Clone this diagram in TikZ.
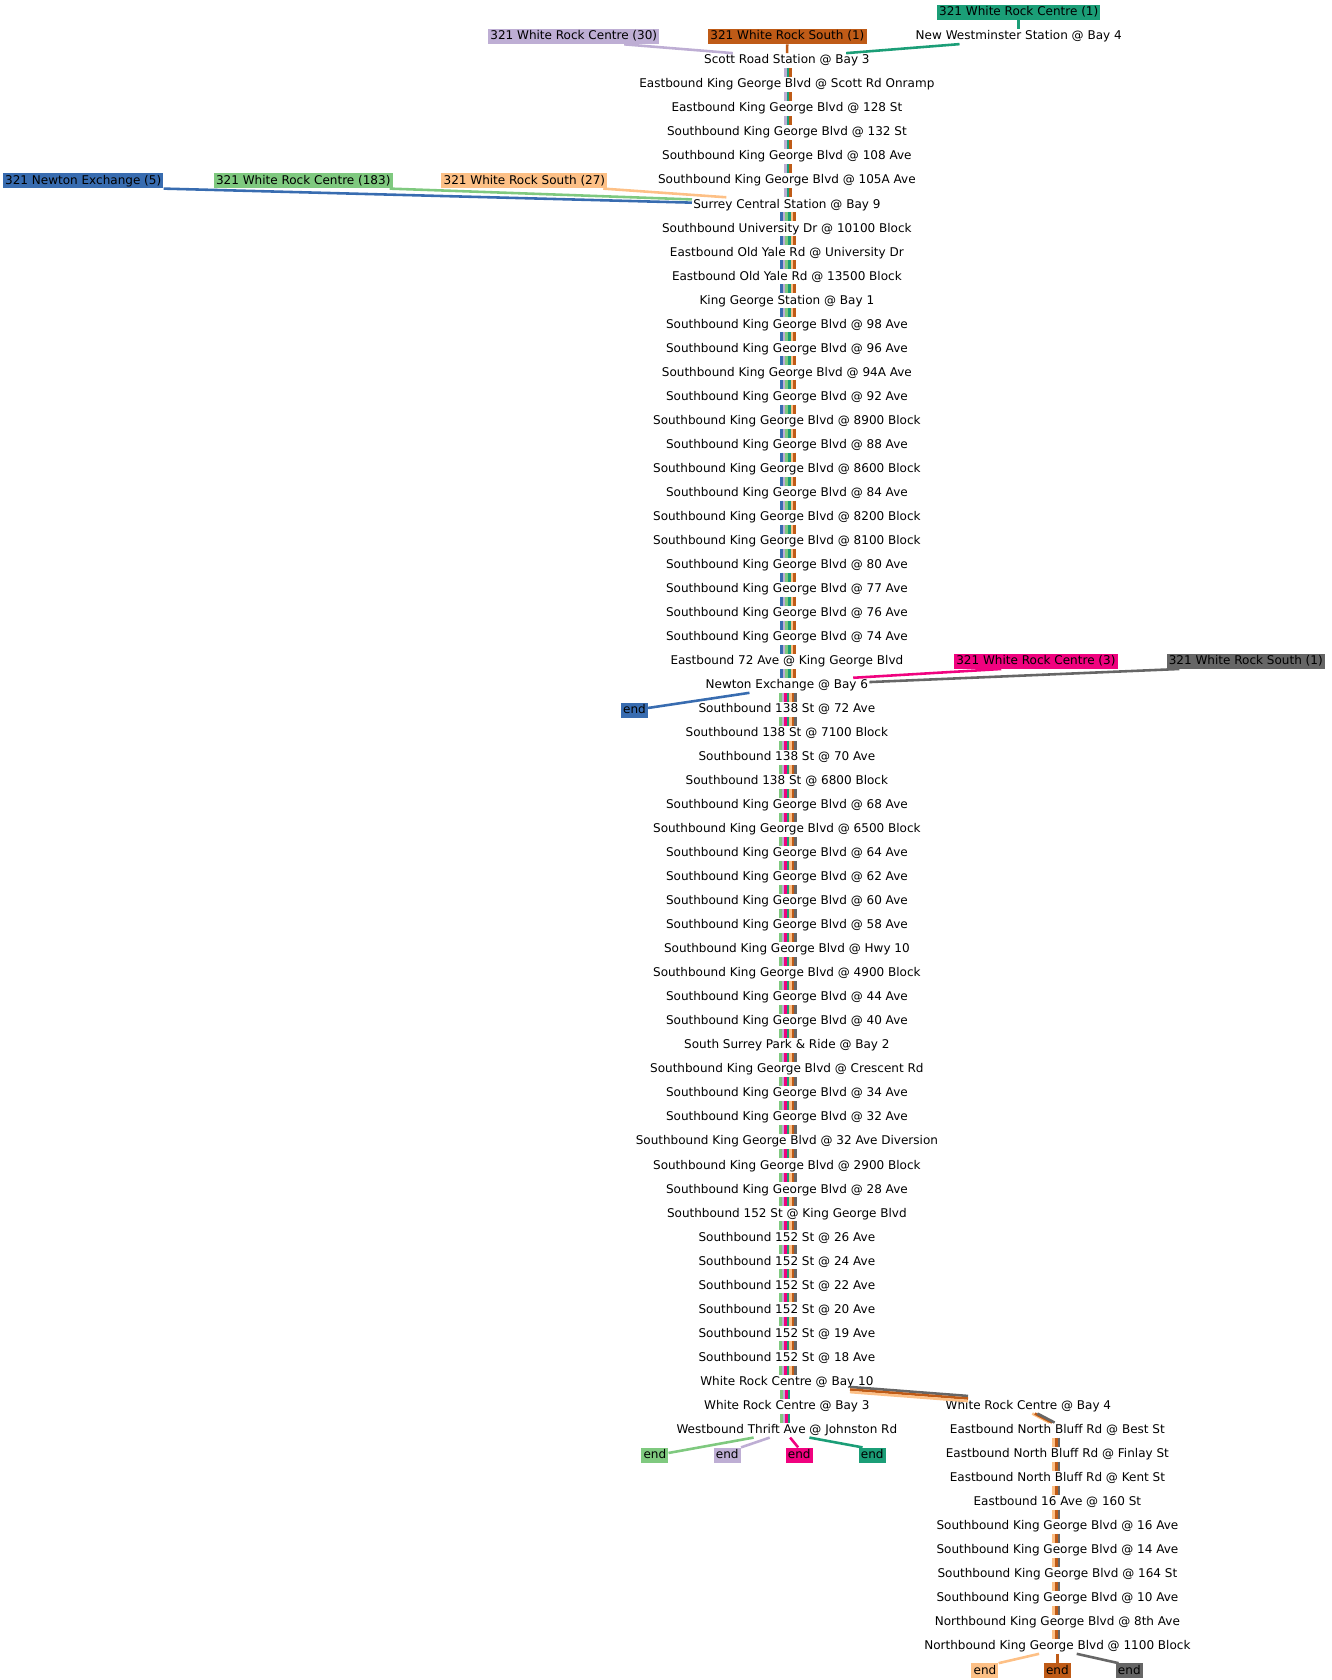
\documentclass[tikz,border=0pt]{standalone}
\usepackage{fontspec}
\setmainfont{DejaVu Sans}
\definecolor{rgreen}{HTML}{7FC97F}
\definecolor{rlav}{HTML}{BEAED4}
\definecolor{rorange}{HTML}{FDC086}
\definecolor{rblue}{HTML}{386CB0}
\definecolor{rpink}{HTML}{F0027F}
\definecolor{rbrown}{HTML}{BF5B17}
\definecolor{rgrey}{HTML}{666666}
\definecolor{rteal}{HTML}{1B9E77}
\begin{document}
\begin{tikzpicture}[x=1pt,y=-1pt,line cap=butt,
  stop/.style={font=\fontsize{11.2}{13}\selectfont,inner xsep=1pt,inner ysep=1.4pt,text height=8.4pt,text depth=2.4pt},
  tag/.style={stop,fill=#1,inner xsep=2pt,inner ysep=1.6pt},
  seg/.style={line width=2.4pt}]
\useasboundingbox (2,-1.5) rectangle (1242,1563.5);
% main line of stops
\foreach \s [count=\i] in {Scott Road Station @ Bay 3,
  Eastbound King George Blvd @ Scott Rd Onramp,
  Eastbound King George Blvd @ 128 St,
  Southbound King George Blvd @ 132 St,
  Southbound King George Blvd @ 108 Ave,
  Southbound King George Blvd @ 105A Ave,
  Surrey Central Station @ Bay 9,
  Southbound University Dr @ 10100 Block,
  Eastbound Old Yale Rd @ University Dr,
  Eastbound Old Yale Rd @ 13500 Block,
  King George Station @ Bay 1,
  Southbound King George Blvd @ 98 Ave,
  Southbound King George Blvd @ 96 Ave,
  Southbound King George Blvd @ 94A Ave,
  Southbound King George Blvd @ 92 Ave,
  Southbound King George Blvd @ 8900 Block,
  Southbound King George Blvd @ 88 Ave,
  Southbound King George Blvd @ 8600 Block,
  Southbound King George Blvd @ 84 Ave,
  Southbound King George Blvd @ 8200 Block,
  Southbound King George Blvd @ 8100 Block,
  Southbound King George Blvd @ 80 Ave,
  Southbound King George Blvd @ 77 Ave,
  Southbound King George Blvd @ 76 Ave,
  Southbound King George Blvd @ 74 Ave,
  Eastbound 72 Ave @ King George Blvd,
  Newton Exchange @ Bay 6,
  Southbound 138 St @ 72 Ave,
  Southbound 138 St @ 7100 Block,
  Southbound 138 St @ 70 Ave,
  Southbound 138 St @ 6800 Block,
  Southbound King George Blvd @ 68 Ave,
  Southbound King George Blvd @ 6500 Block,
  Southbound King George Blvd @ 64 Ave,
  Southbound King George Blvd @ 62 Ave,
  Southbound King George Blvd @ 60 Ave,
  Southbound King George Blvd @ 58 Ave,
  Southbound King George Blvd @ Hwy 10,
  Southbound King George Blvd @ 4900 Block,
  Southbound King George Blvd @ 44 Ave,
  Southbound King George Blvd @ 40 Ave,
  South Surrey Park \& Ride @ Bay 2,
  Southbound King George Blvd @ Crescent Rd,
  Southbound King George Blvd @ 34 Ave,
  Southbound King George Blvd @ 32 Ave,
  Southbound King George Blvd @ 32 Ave Diversion,
  Southbound King George Blvd @ 2900 Block,
  Southbound King George Blvd @ 28 Ave,
  Southbound 152 St @ King George Blvd,
  Southbound 152 St @ 26 Ave,
  Southbound 152 St @ 24 Ave,
  Southbound 152 St @ 22 Ave,
  Southbound 152 St @ 20 Ave,
  Southbound 152 St @ 19 Ave,
  Southbound 152 St @ 18 Ave,
  White Rock Centre @ Bay 10,
  White Rock Centre @ Bay 3,
  Westbound Thrift Ave @ Johnston Rd}
{
\node[stop] (m\i) at (735,{55+22.38*(\i-1)}) {\s};
}
% branch to the east
\node[stop] (bay4) at (960,{55+22.38*56}) {White Rock Centre @ Bay 4};
\foreach \s [count=\i from 58] in {Eastbound North Bluff Rd @ Best St,
  Eastbound North Bluff Rd @ Finlay St,
  Eastbound North Bluff Rd @ Kent St,
  Eastbound 16 Ave @ 160 St,
  Southbound King George Blvd @ 16 Ave,
  Southbound King George Blvd @ 14 Ave,
  Southbound King George Blvd @ 164 St,
  Southbound King George Blvd @ 10 Ave,
  Northbound King George Blvd @ 8th Ave,
  Northbound King George Blvd @ 1100 Block}
{
\node[stop] (e\i) at (987,{55+22.38*(\i-1)}) {\s};
}
% route starts and ends
\node[tag=rteal] (teal1) at (951,10.2) {321 White Rock Centre (1)};
\node[stop] (newwest) at (951,32.6) {New Westminster Station @ Bay 4};
\node[tag=rlav] (lav30) at (536.5,32.6) {321 White Rock Centre (30)};
\node[tag=rbrown] (brown1) at (735.5,32.6) {321 White Rock South (1)};
\node[tag=rblue] (blue5) at (79.5,167) {321 Newton Exchange (5)};
\node[tag=rgreen] (green183) at (284.5,167) {321 White Rock Centre (183)};
\node[tag=rorange] (orange27) at (490.5,167) {321 White Rock South (27)};
\node[tag=rpink] (pink3) at (967,614.5) {321 White Rock Centre (3)};
\node[tag=rgrey] (grey1) at (1162.5,614.5) {321 White Rock South (1)};
\node[tag=rblue] (endblue) at (593,660) {end};
\node[tag=rgreen] (endgreen) at (612,1354) {end};
\node[tag=rlav] (endlav) at (679.5,1354) {end};
\node[tag=rpink] (endpink) at (746.5,1354) {end};
\node[tag=rteal] (endteal) at (814.5,1354) {end};
\node[tag=rorange] (endorange) at (919.5,1555) {end};
\node[tag=rbrown] (endbrown) at (987,1555) {end};
\node[tag=rgrey] (endgrey) at (1054,1555) {end};
\draw[seg,rteal] (teal1) -- (newwest);
\draw[seg,rteal] ([xshift=42pt]newwest.south west) -- ([xshift=-23pt]m1.north east);
\draw[seg,rlav] ([xshift=-33pt]lav30.south east) -- ([xshift=28pt]m1.north west);
\draw[seg,rbrown] (brown1) -- (m1);
\draw[seg,rblue] (blue5.south east) -- ([yshift=2pt]m7.west);
\draw[seg,rgreen] ([xshift=-3pt]green183.south east) -- ([yshift=5pt]m7.west);
\draw[seg,rorange] ([xshift=-4pt]orange27.south east) -- ([xshift=32pt]m7.north west);
\draw[seg,rpink] ([xshift=44pt]pink3.south west) -- ([xshift=-15pt]m27.north east);
\draw[seg,rgrey] ([xshift=12pt]grey1.south west) -- ([yshift=3pt]m27.east);
\draw[seg,rblue] ([xshift=42pt]m27.south west) -- ([yshift=2pt]endblue.east);
\draw[seg,rgreen] ([xshift=73pt]m58.south west) -- ([yshift=2pt]endgreen.east);
\draw[seg,rlav] ([xshift=88pt]m58.south west) -- (endlav.north east);
\draw[seg,rpink] ([xshift=3pt]m58.south) -- ([xshift=-1pt]endpink.north);
\draw[seg,rteal] ([xshift=21pt]m58.south) -- ([xshift=-9pt]endteal.north);
\draw[seg,rorange] ([xshift=-17pt]e67.south) -- (endorange.north east);
\draw[seg,rbrown] (e67) -- (endbrown);
\draw[seg,rgrey] ([xshift=18pt]e67.south) -- ([xshift=-10pt]endgrey.north);
% bundles between stops
\foreach \i [remember=\i as \p (initially 1)] in {2,...,7}
  \foreach \c [count=\j] in {rlav,rteal,rbrown}
    \draw[seg,\c] ([xshift={(\j-2)*2.4pt+1pt}]m\p.south) -- ([xshift={(\j-2)*2.4pt+1pt}]m\i.north);
\foreach \i [remember=\i as \p (initially 7)] in {8,...,27}
  \foreach \c [count=\j] in {rblue,rlav,rgreen,rteal,rorange,rbrown}
    \draw[seg,\c] ([xshift={(\j-3.5)*2.4pt+1pt}]m\p.south) -- ([xshift={(\j-3.5)*2.4pt+1pt}]m\i.north);
\foreach \i [remember=\i as \p (initially 27)] in {28,...,56}
  \foreach \c [count=\j] in {rgreen,rlav,rpink,rteal,rorange,rbrown,rgrey}
    \draw[seg,\c] ([xshift={(\j-4)*2.4pt+1pt}]m\p.south) -- ([xshift={(\j-4)*2.4pt+1pt}]m\i.north);
\foreach \i [remember=\i as \p (initially 56)] in {57,58}
  \foreach \c [count=\j] in {rgreen,rlav,rpink,rteal}
    \draw[seg,\c] ([xshift={(\j-2.5)*2.4pt-1.5pt}]m\p.south) -- ([xshift={(\j-2.5)*2.4pt-1.5pt}]m\i.north);
\foreach \c [count=\j] in {rgrey,rbrown,rorange}
  \draw[seg,\c] ([xshift=-23pt,yshift={(2-\j)*2.4pt}]m56.south east) -- ([xshift=22pt,yshift={(2-\j)*2.4pt}]bay4.north west);
\foreach \c [count=\j] in {rorange,rbrown,rgrey}
  \draw[seg,\c] ([xshift={(\j-2)*2.4pt+6pt}]bay4.south) -- ([xshift={(\j-2)*2.4pt-5pt}]e58.north);
\foreach \i [remember=\i as \p (initially 58)] in {59,...,67}
  \foreach \c [count=\j] in {rorange,rbrown,rgrey}
    \draw[seg,\c] ([xshift={(\j-2)*2.4pt-1pt}]e\p.south) -- ([xshift={(\j-2)*2.4pt-1pt}]e\i.north);
\end{tikzpicture}
\end{document}
